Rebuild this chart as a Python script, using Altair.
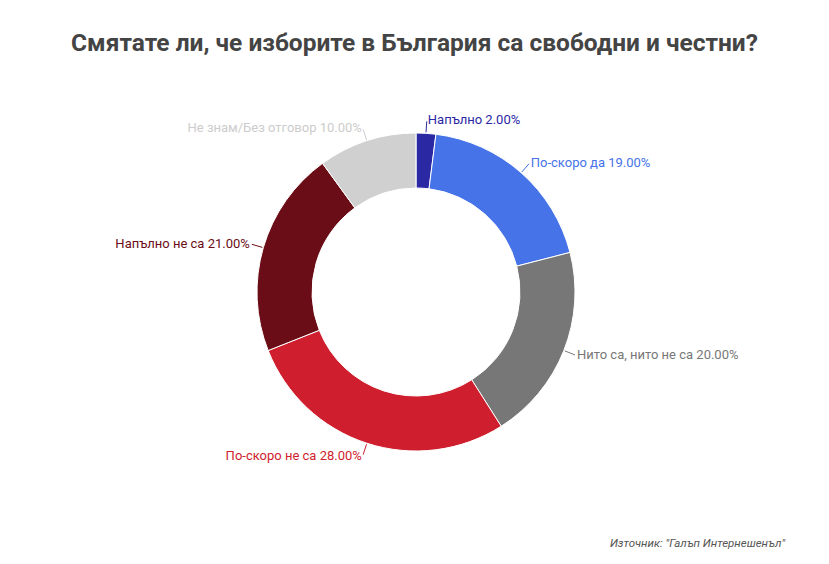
import altair as alt
import pandas as pd

title_text = "Смятате ли, че изборите в България са свободни и честни?"
source_text = 'Източник: "Галъп Интернешенъл"'

categories = ["Напълно", "По-скоро да", "Нито са, нито не са", "По-скоро не са",
              "Напълно не са", "Не знам/Без отговор"]
values = [2.0, 19.0, 20.0, 28.0, 21.0, 10.0]
colors = ["#2b28a3", "#4673e8", "#777777", "#cf1e2d", "#6b0d16", "#d0d0d0"]
label_colors = ["#2b28a3", "#4673e8", "#777777", "#cf1e2d", "#6b0d16", "#cccccc"]

df = pd.DataFrame({
    "cat": categories,
    "value": values,
    "order": list(range(len(categories))),
    "label": [f"{c} {v:.2f}%" for c, v in zip(categories, values)],
})

CX, CY = 408, 224
R_OUT, R_IN = 159, 104
R_LAB = 172

color_scale = alt.Scale(domain=categories, range=colors)
label_scale = alt.Scale(domain=categories, range=label_colors)

base = alt.Chart(df)

arcs = base.mark_arc(outerRadius=R_OUT, innerRadius=R_IN, stroke="white", strokeWidth=1).encode(
    theta=alt.Theta("value:Q", stack=True, scale=alt.Scale(domain=[0, 100])),
    color=alt.Color("cat:N", scale=color_scale, legend=None),
    order=alt.Order("order:Q"),
    x=alt.value(CX), y=alt.value(CY),
)

stacked = base.transform_window(
    cum="sum(value)", sort=[alt.SortField("order")], frame=[None, 0]
).transform_calculate(
    mid="datum.cum - datum.value / 2",
    ang="(datum.cum - datum.value / 2) / 100 * 2 * PI",
).transform_calculate(
    right="datum.mid < 50 ? 1 : 0",
    x1=f"{CX} + {R_OUT + 1} * sin(datum.ang)",
    y1=f"{CY} - {R_OUT + 1} * cos(datum.ang)",
    x2=f"{CX} + {R_LAB - 1} * sin(datum.ang)",
    y2=f"{CY} - {R_LAB - 1} * cos(datum.ang)",
    lx=f"{CX} + {R_LAB} * sin(datum.ang)",
    ly=f"{CY} - {R_LAB} * cos(datum.ang)",
)

leaders = stacked.mark_rule(strokeWidth=1).encode(
    x=alt.X("x1:Q", scale=None, axis=None),
    y=alt.Y("y1:Q", scale=None, axis=None),
    x2="x2:Q", y2="y2:Q",
    color=alt.Color("cat:N", scale=label_scale, legend=None),
)

labels_r = stacked.transform_filter("datum.right == 1").mark_text(
    align="left", baseline="middle", font="Roboto", fontSize=13, dx=1
).encode(
    x=alt.X("lx:Q", scale=None, axis=None),
    y=alt.Y("ly:Q", scale=None, axis=None),
    text="label:N",
    color=alt.Color("cat:N", scale=label_scale, legend=None),
)
labels_l = stacked.transform_filter("datum.right == 0").mark_text(
    align="right", baseline="middle", font="Roboto", fontSize=13, dx=-1
).encode(
    x=alt.X("lx:Q", scale=None, axis=None),
    y=alt.Y("ly:Q", scale=None, axis=None),
    text="label:N",
    color=alt.Color("cat:N", scale=label_scale, legend=None),
)

src = alt.Chart(pd.DataFrame({"t": [source_text]})).mark_text(
    align="right", baseline="middle", font="Roboto", fontSize=11.5, fontStyle="italic", color="#555555"
).encode(text="t:N", x=alt.value(777), y=alt.value(476))

line = alt.Chart(pd.DataFrame({"a": [0]})).mark_rule(color="#d8d8d8", strokeWidth=1.5).encode(
    x=alt.value(37), x2=alt.value(777), y=alt.value(490)
)

chart = alt.layer(arcs, leaders, labels_r, labels_l, src, line).resolve_scale(
    color="independent"
).properties(
    width=813, height=488,
    padding={"left": 0, "top": 60, "right": 0, "bottom": 0},
    autosize=alt.AutoSizeParams(type="none"),
    title=alt.TitleParams(title_text, font="Roboto", fontSize=24.5, fontWeight="bold",
                          color="#444444", anchor="middle", offset=12),
).configure_view(stroke=None)

chart.save("out.html", embed_options={"renderer": "svg", "actions": False})
